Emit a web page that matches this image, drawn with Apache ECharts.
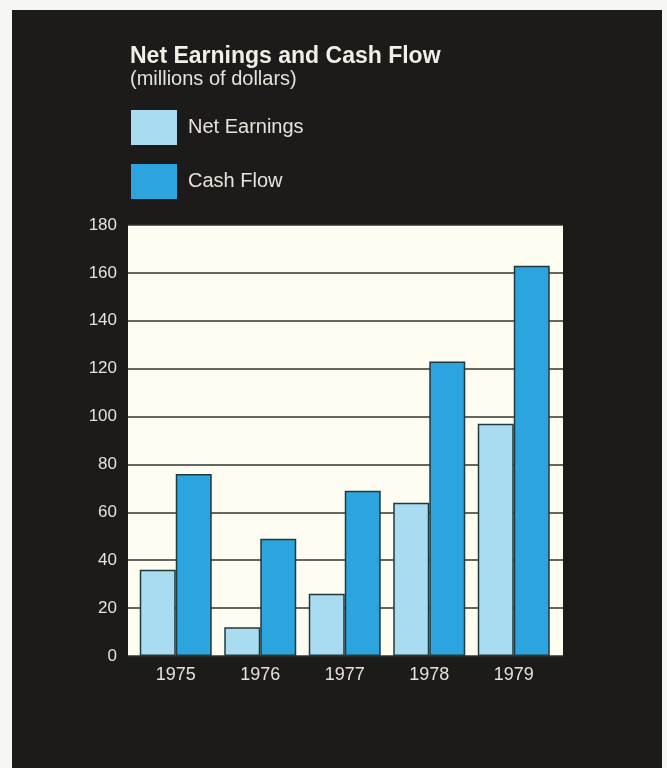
<!DOCTYPE html>
<html>
<head>
<meta charset="utf-8">
<script src="https://cdn.jsdelivr.net/npm/echarts@6/dist/echarts.min.js"></script>
<style>
html,body{margin:0;padding:0;background:#f6f6f4;}
#chart{width:667px;height:768px;}
</style>
</head>
<body>
<div id="chart"></div>
<script>
const years = ['1975', '1976', '1977', '1978', '1979'];
const netEarnings = [36, 12, 26, 64, 97];
const cashFlow = [76, 49, 69, 123, 163];
const yTicks = {min: 0, max: 180, interval: 20};

const chart = echarts.init(document.getElementById('chart'));
const labelColor = '#e6e2da';
const font = '"Liberation Sans", Arial, Helvetica, sans-serif';
const gridTop = 225, gridBottom = 768 - 656;

chart.setOption({
  backgroundColor: '#f6f6f4',
  animation: false,
  textStyle: {fontFamily: font},
  graphic: [{
    type: 'rect', z: -100, silent: true,
    shape: {x: 12, y: 10, width: 650, height: 770},
    style: {fill: '#1c1b19'}
  }],
  title: [
    {text: 'Net Earnings and Cash Flow', left: 125, top: 40,
     textStyle: {color: '#f2efe8', fontSize: 23, fontWeight: 'bold', fontFamily: font}},
    {text: '(millions of dollars)', left: 125, top: 64,
     textStyle: {color: '#e6e2da', fontSize: 20, fontWeight: 'normal', fontFamily: font}}
  ],
  legend: {
    orient: 'vertical', left: 126, top: 105,
    icon: 'rect', itemWidth: 46, itemHeight: 35, itemGap: 19,
    itemStyle: {borderWidth: 0},
    textStyle: {color: labelColor, fontSize: 20, fontFamily: font, padding: [0, 0, 0, 6]},
    data: ['Net Earnings', 'Cash Flow']
  },
  grid: [
    {left: 128, right: 667 - 563, top: gridTop, bottom: gridBottom,
     show: true, backgroundColor: '#fffdf1', borderWidth: 0},
    {left: 133.5, right: 667 - 556, top: gridTop, bottom: gridBottom}
  ],
  xAxis: [
    {type: 'category', gridIndex: 0, data: years, show: false},
    {type: 'category', gridIndex: 1, data: years,
     axisLine: {show: false}, axisTick: {show: false},
     axisLabel: {color: labelColor, fontSize: 18, margin: 10, fontFamily: font}}
  ],
  yAxis: [
    {type: 'value', gridIndex: 0, min: yTicks.min, max: yTicks.max, interval: yTicks.interval,
     axisLine: {show: false}, axisTick: {show: false},
     axisLabel: {color: labelColor, fontSize: 17, margin: 11, fontFamily: font},
     splitLine: {lineStyle: {color: '#2e3430', width: 1.5}}},
    {type: 'value', gridIndex: 1, min: yTicks.min, max: yTicks.max, interval: yTicks.interval,
     show: false, splitLine: {show: false}}
  ],
  series: [
    {name: 'Net Earnings', type: 'bar', xAxisIndex: 1, yAxisIndex: 1,
     data: netEarnings, barWidth: 36, barGap: '0%',
     itemStyle: {color: '#a9dcf0', borderColor: '#1f3a3d', borderWidth: 1.5}},
    {name: 'Cash Flow', type: 'bar', xAxisIndex: 1, yAxisIndex: 1,
     data: cashFlow, barWidth: 36, barGap: '0%',
     itemStyle: {color: '#2ca4dd', borderColor: '#1f3a3d', borderWidth: 1.5}}
  ]
});
</script>
</body>
</html>
